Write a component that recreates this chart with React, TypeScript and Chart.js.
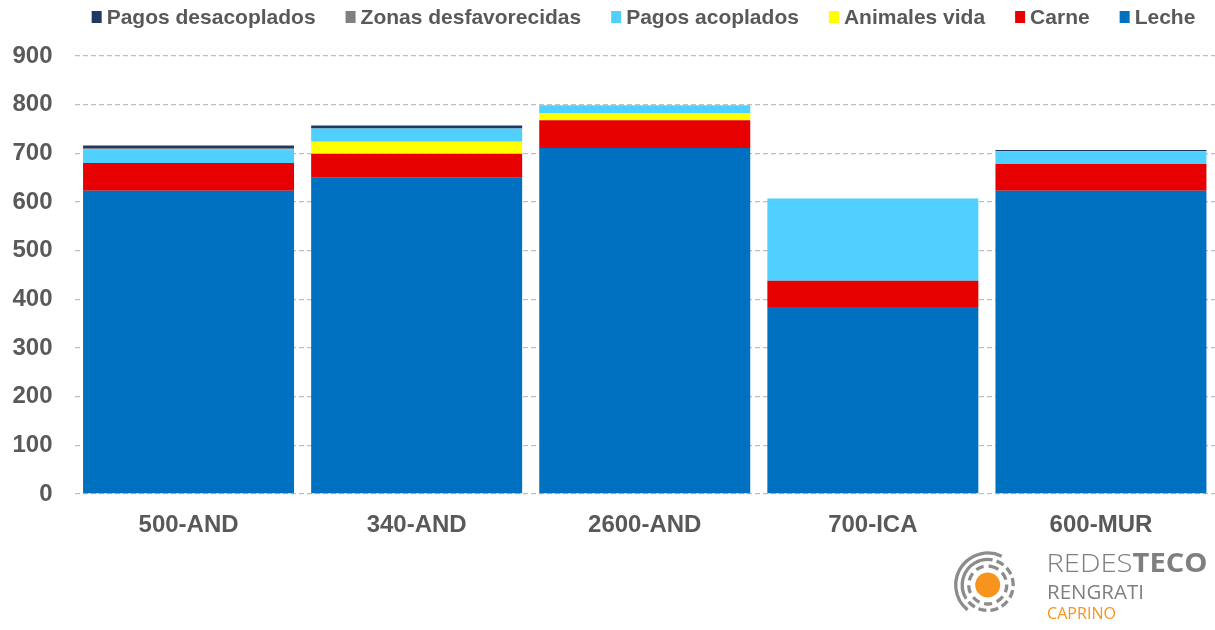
import React, { useEffect, useRef } from "react";
import { Chart, registerables } from "chart.js";

Chart.register(...registerables);

const categories = ["500-AND", "340-AND", "2600-AND", "700-ICA", "600-MUR"];
const leche = [623, 650, 711, 384, 623];
const carne = [57, 49, 57, 54, 55];
const animalesVida = [0, 25, 14, 0, 0];
const pagosAcoplados = [28, 27, 17, 169, 26];
const zonasDesfavorecidas = [3, 0, 0, 0, 1];
const pagosDesacoplados = [5, 6, 0, 0, 2];
const yMin = 0;
const yMax = 900;
const yStep = 100;

const FONT = "'Liberation Sans', Arial, sans-serif";
const TEXT_COLOR = "#595959";

const legendPlugin = {
  id: "customLegend",
  afterDraw(chart: any) {
    const ctx = chart.ctx;
    ctx.save();
    ctx.font = `bold 21px ${FONT}`;
    const items = chart.data.datasets
      .map((d: any) => ({ label: d.label, color: d.backgroundColor }))
      .reverse();
    const boxW = 10;
    const boxH = 12;
    const gapBox = 5;
    const gapItem = 30;
    const widths = items.map((it: any) => boxW + gapBox + ctx.measureText(it.label).width);
    const total = widths.reduce((a: number, b: number) => a + b, 0) + gapItem * (items.length - 1);
    let x = 643.5 - total / 2;
    const cy = 17;
    ctx.textBaseline = "middle";
    ctx.textAlign = "left";
    items.forEach((it: any, i: number) => {
      ctx.fillStyle = it.color;
      ctx.fillRect(x, cy - boxH / 2, boxW, boxH);
      ctx.fillStyle = TEXT_COLOR;
      ctx.fillText(it.label, x + boxW + gapBox, cy + 1);
      x += widths[i] + gapItem;
    });
    ctx.restore();
  },
};

function Logo() {
  const cx = 47.7;
  const cy = 45;
  return (
    <svg width={275} height={90} style={{ position: "absolute", left: 940, top: 540 }}>
      <circle cx={cx} cy={cy} r={32} fill="none" stroke="#8c8c8c" strokeWidth={3.3} strokeDasharray="93 108" transform={`rotate(129 ${cx} ${cy})`} />
      <circle cx={cx} cy={cy} r={25.5} fill="none" stroke="#8c8c8c" strokeWidth={3.3} strokeDasharray="58 4 8 4 8 4 8 4 8 4 8 4 8 4 8 4 8 4 8 6" transform={`rotate(150 ${cx} ${cy})`} />
      <circle cx={cx} cy={cy} r={19} fill="none" stroke="#8c8c8c" strokeWidth={3.3} strokeDasharray="8 4.9" transform={`rotate(-80 ${cx} ${cy})`} />
      <circle cx={cx} cy={cy} r={12.5} fill="#F7941D" />
      <text x={106.5} y={32} fontFamily="'Open Sans', sans-serif" fontSize={26} fill="#7f7f7f" textLength={161} lengthAdjust="spacingAndGlyphs">
        <tspan fontWeight={300}>REDES</tspan>
        <tspan fontWeight={700}>TECO</tspan>
      </text>
      <text x={107} y={58.5} fontFamily="'Open Sans', sans-serif" fontSize={20} fill="#7f7f7f" textLength={97} lengthAdjust="spacingAndGlyphs">
        RENGRATI
      </text>
      <text x={107} y={79} fontFamily="'Open Sans', sans-serif" fontSize={15.5} fill="#F7941D" textLength={69} lengthAdjust="spacingAndGlyphs">
        CAPRINO
      </text>
    </svg>
  );
}

export default function App() {
  const canvasRef = useRef<HTMLCanvasElement | null>(null);

  useEffect(() => {
    if (!canvasRef.current) return;
    const chart = new Chart(canvasRef.current, {
      type: "bar",
      data: {
        labels: categories,
        datasets: [
          { label: "Leche", data: leche, backgroundColor: "#0070C0" },
          { label: "Carne", data: carne, backgroundColor: "#E60000" },
          { label: "Animales vida", data: animalesVida, backgroundColor: "#FFFF00" },
          { label: "Pagos acoplados", data: pagosAcoplados, backgroundColor: "#4FD0FF" },
          { label: "Zonas desfavorecidas", data: zonasDesfavorecidas, backgroundColor: "#808080" },
          { label: "Pagos desacoplados", data: pagosDesacoplados, backgroundColor: "#1F3864" },
        ].map((d) => ({
          ...d,
          borderWidth: 0,
          barPercentage: 0.925,
          categoryPercentage: 1,
        })),
      },
      options: {
        responsive: false,
        animation: false,
        maintainAspectRatio: false,
        layout: { padding: { top: 56, left: 0, right: -2, bottom: 0 } },
        plugins: {
          legend: { display: false },
          tooltip: { enabled: false },
        },
        scales: {
          x: {
            stacked: true,
            grid: { display: false, drawTicks: false },
            border: { display: false },
            ticks: {
              color: TEXT_COLOR,
              font: { family: FONT, size: 24, weight: "bold" },
              padding: 17,
            },
            afterFit: (s: any) => {
              s.height = 136;
            },
          },
          y: {
            stacked: true,
            min: yMin,
            max: yMax,
            grid: { color: "#BFBFBF", lineWidth: 1.3, drawTicks: false },
            border: { display: false, dash: [5, 3] },
            ticks: {
              stepSize: yStep,
              color: TEXT_COLOR,
              font: { family: FONT, size: 24, weight: "bold" },
              padding: 22,
            },
            afterFit: (s: any) => {
              s.width = 74.5;
            },
          },
        },
      },
      plugins: [legendPlugin],
    });
    return () => chart.destroy();
  }, []);

  return (
    <div style={{ position: "absolute", left: 0, top: 0, width: 1215, height: 630, background: "#fff" }}>
      <canvas ref={canvasRef} width={1215} height={630} style={{ display: "block" }} />
      <Logo />
    </div>
  );
}
